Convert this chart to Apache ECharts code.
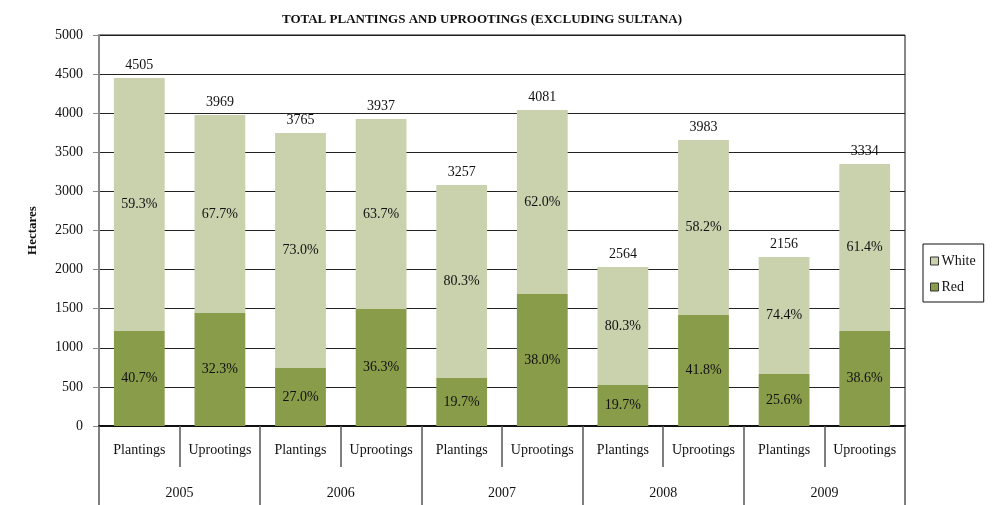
<!DOCTYPE html>
<html>
<head>
<meta charset="utf-8">
<title>Total plantings and uprootings</title>
<script src="https://cdn.jsdelivr.net/npm/echarts@6/dist/echarts.min.js"></script>
<style>
  html, body { margin: 0; padding: 0; background: #fff; }
  #chart { width: 1005px; height: 505px; }
</style>
</head>
<body>
<div id="chart"></div>
<script>
// 数据
var kinds = ['Plantings', 'Uprootings', 'Plantings', 'Uprootings', 'Plantings',
  'Uprootings', 'Plantings', 'Uprootings', 'Plantings', 'Uprootings']
var years = ['2005', '2006', '2007', '2008', '2009']
var redValues = [1215, 1445, 742, 1496, 614, 1688, 524, 1419, 665, 1215]
var whiteValues = [3235, 2532, 3005, 2430, 2468, 2353, 1509, 2238, 1496, 2135]
var totalLabels = ['4505', '3969', '3765', '3937', '3257', '4081', '2564', '3983', '2156', '3334']
var redPct = ['40.7%', '32.3%', '27.0%', '36.3%', '19.7%', '38.0%', '19.7%', '41.8%', '25.6%', '38.6%']
var whitePct = ['59.3%', '67.7%', '73.0%', '63.7%', '80.3%', '62.0%', '80.3%', '58.2%', '74.4%', '61.4%']
var yTicks = [0, 500, 1000, 1500, 2000, 2500, 3000, 3500, 4000, 4500, 5000]

var font = 'Liberation Serif'
var chart = echarts.init(document.getElementById('chart'))

chart.setOption({
  animation: false,
  textStyle: { fontFamily: font, color: '#111' },
  title: {
    text: 'TOTAL PLANTINGS AND UPROOTINGS (EXCLUDING SULTANA)',
    left: 477, top: 8, textAlign: 'center',
    textStyle: { fontFamily: font, fontSize: 13, fontWeight: 'bold', color: '#111' }
  },
  legend: {
    data: ['White', 'Red'],
    orient: 'vertical',
    left: 923, top: 244,
    itemWidth: 8, itemHeight: 8, itemGap: 12,
    padding: [10, 8, 8, 7],
    borderColor: '#111', borderWidth: 1,
    icon: 'rect',
    itemStyle: { borderColor: '#333', borderWidth: 1 },
    textStyle: { fontFamily: font, fontSize: 14, color: '#111', padding: [0, 0, 0, -2] }
  },
  grid: {
    left: 99, right: 100, top: 35, bottom: 79,
    show: true, borderColor: '#111', borderWidth: 1, containLabel: false
  },
  xAxis: [
    {
      type: 'category', data: kinds, position: 'bottom',
      axisLine: { show: true, lineStyle: { color: '#111', width: 2 } },
      axisTick: { show: true, alignWithLabel: false, interval: 0, length: 41, lineStyle: { color: '#555', width: 1.5 } },
      axisLabel: { interval: 0, margin: 17, fontSize: 14, color: '#111', fontFamily: font }
    },
    {
      type: 'category', data: years, position: 'bottom',
      axisLine: { show: false },
      axisTick: { show: true, interval: 0, length: 80, lineStyle: { color: '#555', width: 1.5 } },
      axisLabel: { interval: 0, margin: 60, fontSize: 14, color: '#111', fontFamily: font }
    }
  ],
  yAxis: {
    type: 'value', min: 0, max: 5000, interval: 500,
    name: 'Hectares', nameLocation: 'middle', nameGap: 60, nameRotate: 90,
    nameTextStyle: { fontFamily: font, fontSize: 13, fontWeight: 'bold', color: '#111' },
    axisLine: { show: true, lineStyle: { color: '#888', width: 2 } },
    axisTick: { show: true, length: 6, lineStyle: { color: '#888' } },
    axisLabel: {
      fontSize: 14, color: '#111', margin: 16, fontFamily: font,
      formatter: function (v) { return yTicks.indexOf(v) >= 0 ? String(v) : '' }
    },
    splitLine: { lineStyle: { color: '#222', width: 1 } }
  },
  series: [
    {
      name: 'Red', type: 'bar', stack: 'total', data: redValues,
      barWidth: '63%',
      itemStyle: { color: '#889C4A' },
      label: {
        show: true, position: 'inside', fontSize: 14, color: '#111', fontFamily: font,
        formatter: function (p) { return redPct[p.dataIndex] }
      }
    },
    {
      name: 'White', type: 'bar', stack: 'total', data: whiteValues,
      barWidth: '63%',
      itemStyle: { color: '#C9D1AD' },
      label: {
        show: true, position: 'inside', fontSize: 14, color: '#111', fontFamily: font,
        formatter: function (p) { return whitePct[p.dataIndex] }
      }
    },
    {
      // 只用来显示总数标签
      name: 'Total', type: 'bar', stack: 'total',
      data: redValues.map(function () { return 0 }),
      barWidth: '63%',
      itemStyle: { color: 'transparent' },
      label: {
        show: true, position: 'top', distance: 6, fontSize: 14, color: '#111', fontFamily: font,
        formatter: function (p) { return totalLabels[p.dataIndex] }
      }
    }
  ]
})
</script>
</body>
</html>
